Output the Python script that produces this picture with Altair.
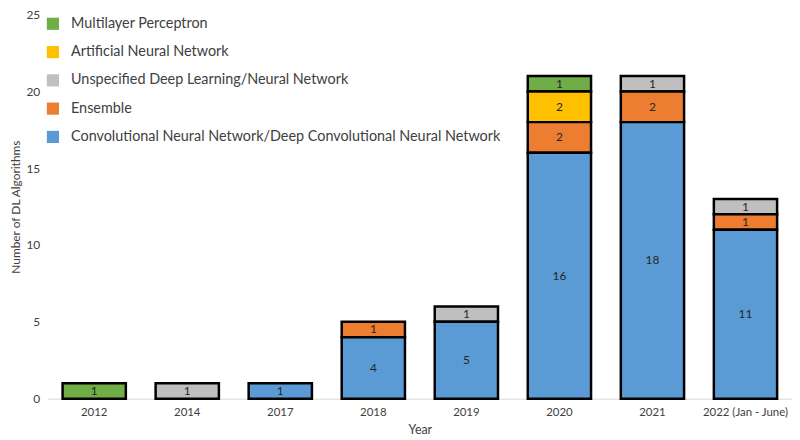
import altair as alt
import pandas as pd

years = ["2012", "2014", "2017", "2018", "2019", "2020", "2021", "2022 (Jan - June)"]
series = [
    "Multilayer Perceptron",
    "Artificial Neural Network",
    "Unspecified Deep Learning/Neural Network",
    "Ensemble",
    "Convolutional Neural Network/Deep Convolutional Neural Network",
]
colors = ["#70AD47", "#FFC000", "#BFBFBF", "#ED7D31", "#5B9BD5"]
stack_rank = [4, 3, 2, 1, 0]

mlp = [1, 0, 0, 0, 0, 1, 0, 0]
ann = [0, 0, 0, 0, 0, 2, 0, 0]
unspec = [0, 1, 0, 0, 1, 0, 1, 1]
ensemble = [0, 0, 0, 1, 0, 2, 2, 1]
cnn = [0, 0, 1, 4, 5, 16, 18, 11]

values = [mlp, ann, unspec, ensemble, cnn]
rows = []
for s, r, vals in zip(series, stack_rank, values):
    for y, v in zip(years, vals):
        if v:
            rows.append({"year": y, "series": s, "rank": r, "count": v})
df = pd.DataFrame(rows)

font = "Lato"

x = alt.X("year:N", sort=years, title="Year",
          scale=alt.Scale(paddingInner=0.32, paddingOuter=0.16),
          axis=alt.Axis(labelAngle=0, ticks=False, domainColor="#D9D9D9", domainWidth=1,
                        labelFont=font, labelFontSize=11.5, labelColor="#404040", labelPadding=8,
                        titleFont=font, titleFontSize=12.5, titleFontWeight="normal",
                        titleColor="#404040", titlePadding=6))

y_axis = alt.Axis(values=[0, 5, 10, 15, 20, 25], domain=False, ticks=False, grid=False,
                  labelFont=font, labelFontSize=12, labelColor="#404040", labelPadding=8,
                  titleFont=font, titleFontSize=12, titleFontWeight="normal",
                  titleColor="#404040", titlePadding=3)

bars = alt.Chart(df).mark_bar(stroke="black", strokeWidth=2.5).encode(
    x=x,
    y=alt.Y("sum(count):Q", title="Number of DL Algorithms",
            scale=alt.Scale(domain=[0, 25], nice=False), axis=y_axis),
    color=alt.Color("series:N", scale=alt.Scale(domain=series, range=colors),
                    legend=alt.Legend(title=None, orient="none", legendX=-2, legendY=2,
                                      symbolType="square", symbolSize=150, symbolStrokeWidth=0,
                                      labelFont=font, labelFontSize=14.5, labelColor="#404040",
                                      labelLimit=600, rowPadding=13.5, labelOffset=11)),
    order=alt.Order("rank:Q", sort="ascending"),
)

labels = alt.Chart(df).transform_stack(
    stack="count", as_=["y0", "y1"], groupby=["year"], sort=[alt.SortField("rank", order="ascending")]
).transform_calculate(
    mid="(datum.y0 + datum.y1) / 2"
).mark_text(font=font, fontSize=12, color="#262626", baseline="middle").encode(
    x=alt.X("year:N", sort=years),
    y=alt.Y("mid:Q"),
    text=alt.Text("count:Q"),
)

chart = alt.layer(bars, labels).properties(
    width=750, height=387,
    autosize=alt.AutoSizeParams(type="none"),
    padding={"left": 40, "top": 5, "right": 0, "bottom": 38},
).configure_view(stroke=None)

chart.save("out.html", embed_options={"renderer": "svg", "actions": False})
